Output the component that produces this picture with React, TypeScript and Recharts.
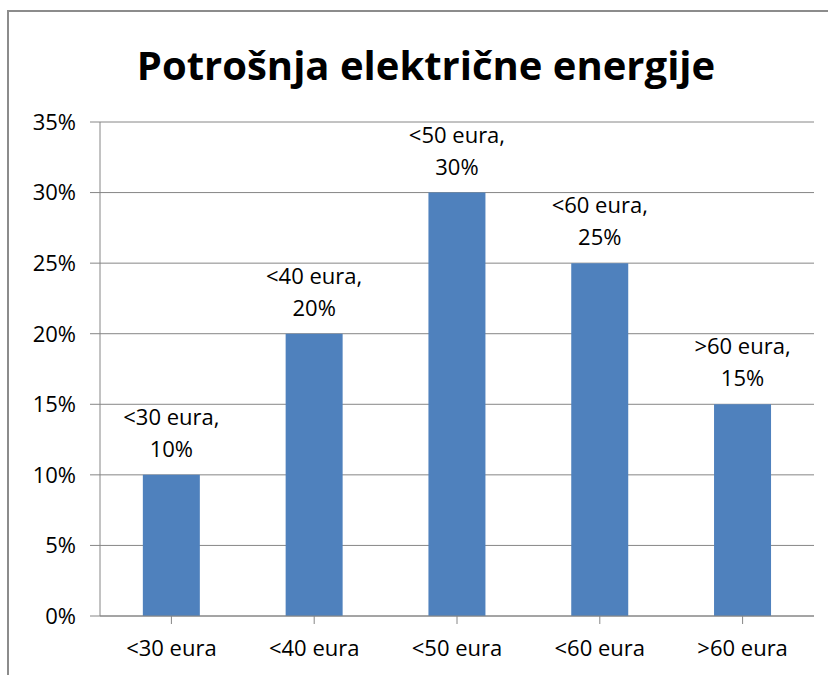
import { BarChart, Bar, XAxis, YAxis, CartesianGrid, LabelList } from 'recharts';

const categories = ['<30 eura', '<40 eura', '<50 eura', '<60 eura', '>60 eura'];
const shares = [10, 20, 30, 25, 15];
const yTicks = [0, 5, 10, 15, 20, 25, 30, 35];

const data = categories.map((name, i) => ({ name, value: shares[i] }));

const FONT = '"Open Sans", sans-serif';
const GRID = '#868686';

function BarLabel(props: any) {
  const { x, y, width, index } = props;
  const cx = x + width / 2;
  const d = data[index];
  return (
    <text x={cx} textAnchor="middle" fontFamily={FONT} fontSize={22} fill="#000">
      <tspan x={cx} y={y - 50}>{d.name},</tspan>
      <tspan x={cx} y={y - 18}>{d.value}%</tspan>
    </text>
  );
}

export default function App() {
  return (
    <div style={{ position: 'fixed', left: 0, top: 0, width: 828, height: 675, background: '#fff', overflow: 'hidden' }}>
      {/* chart frame */}
      <div
        style={{
          position: 'absolute',
          left: 7,
          top: 10,
          width: 840,
          height: 700,
          border: '2px solid #8c8c8c',
          boxSizing: 'border-box',
        }}
      />
      <div
        style={{
          position: 'absolute',
          left: 0,
          width: 828,
          top: 38,
          textAlign: 'center',
          fontFamily: FONT,
          fontWeight: 700,
          fontSize: 40,
          lineHeight: '54px',
          color: '#000',
          paddingLeft: 24,
          boxSizing: 'border-box',
        }}
      >
        Potrošnja električne energije
      </div>
      <div style={{ position: 'absolute', left: 0, top: 0 }}>
        <BarChart
          width={828}
          height={675}
          data={data}
          margin={{ top: 122, right: 14, bottom: 0, left: 40 }}
          barCategoryGap="30%"
        >
          <CartesianGrid vertical={false} stroke={GRID} strokeWidth={1} />
          <XAxis
            dataKey="name"
            height={59}
            stroke={GRID}
            tickSize={8}
            tickMargin={16}
            tick={{ fill: '#000', fontSize: 22, fontFamily: FONT }}
          />
          <YAxis
            width={60}
            domain={[0, 35]}
            ticks={yTicks}
            tickFormatter={(v: number) => `${v}%`}
            stroke={GRID}
            tickSize={10}
            tickMargin={14}
            tick={{ fill: '#000', fontSize: 22, fontFamily: FONT }}
          />
          <Bar dataKey="value" fill="#4F81BD" isAnimationActive={false}>
            <LabelList dataKey="value" content={BarLabel} />
          </Bar>
        </BarChart>
      </div>
    </div>
  );
}
